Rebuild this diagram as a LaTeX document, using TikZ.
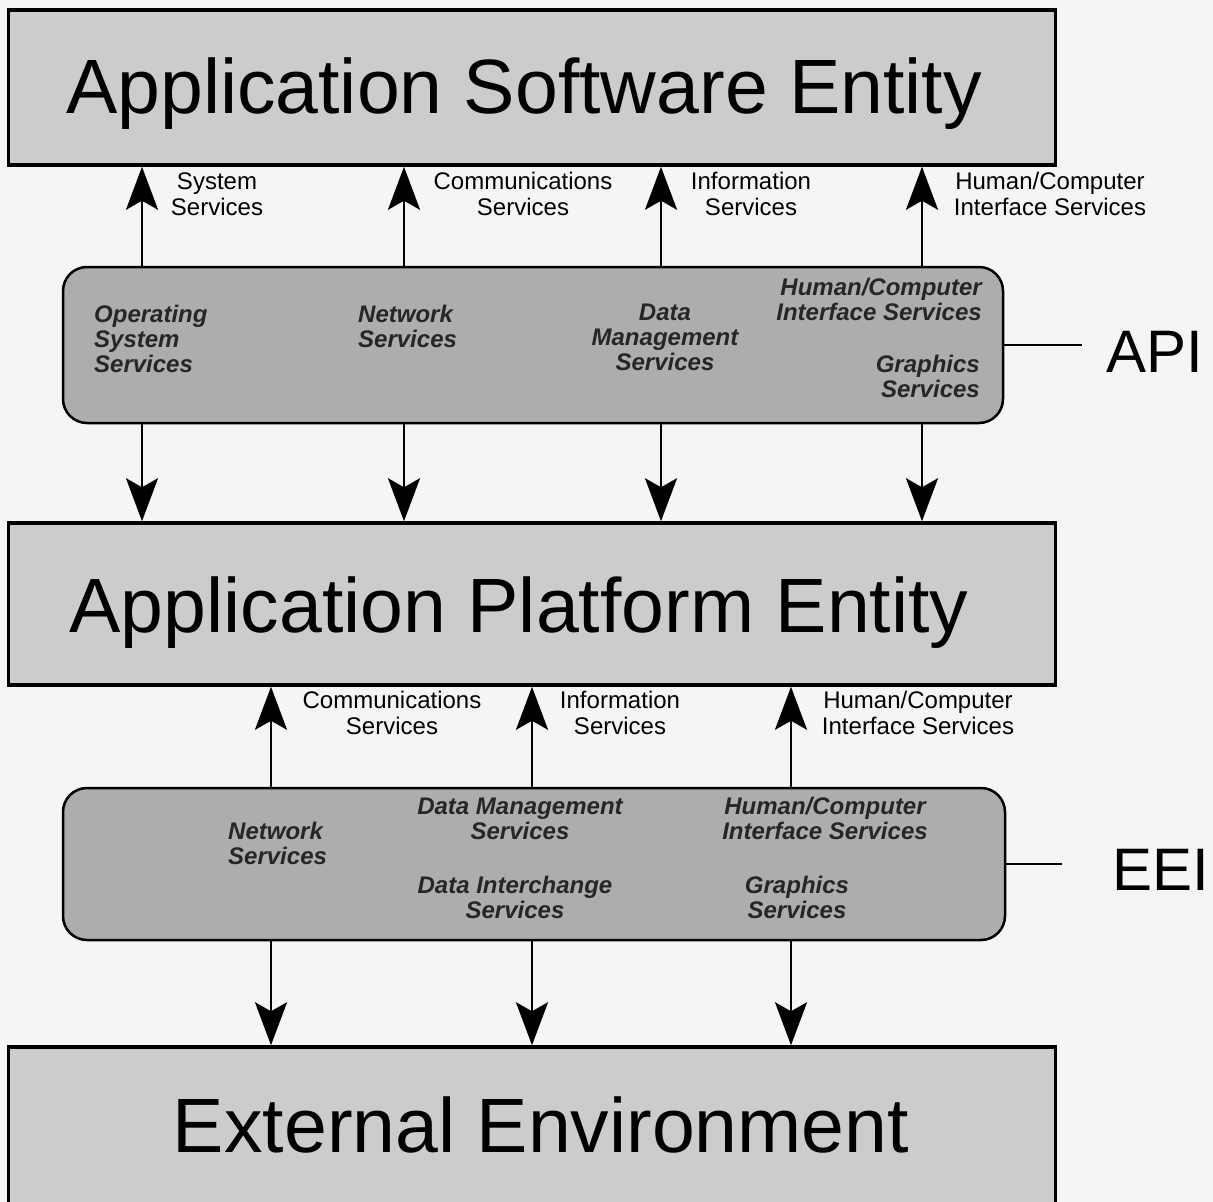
\documentclass[tikz,border=0pt]{standalone}
\usepackage{fontspec}
\setmainfont{Liberation Sans}
\usetikzlibrary{arrows.meta}
\definecolor{bg}{gray}{0.96}
\definecolor{boxfill}{gray}{0.80}
\definecolor{ifacefill}{gray}{0.68}
\begin{document}
\begin{tikzpicture}[x=1pt,y=-1pt,
  entity/.style={draw=black, line width=3.5pt, fill=boxfill, rectangle, inner sep=0pt},
  iface/.style={draw=black, line width=2.5pt, fill=ifacefill, rounded corners=24pt, rectangle, inner sep=0pt},
  title/.style={font=\fontsize{77}{80}\selectfont, anchor=base, inner sep=0pt},
  lab/.style={font=\fontsize{24}{25.5}\selectfont, align=center, anchor=base, inner sep=0pt},
  svc/.style={font=\fontsize{24}{25}\selectfont\bfseries\itshape, text=black!85, anchor=base, inner sep=0pt},
  big/.style={font=\fontsize{60}{60}\selectfont, anchor=base west, inner sep=0pt},
  arr/.style={line width=2.5pt, -{Stealth[length=43pt,width=32pt,inset=9pt]}},
  tick/.style={line width=2.5pt}]
\fill[bg] (0,0) rectangle (1213,1202);
\useasboundingbox (0,0) rectangle (1213,1202);

% boxes
\node[entity, minimum width=1047pt, minimum height=155pt] (ase) at (532,87.5) {};
\node[iface, minimum width=940pt, minimum height=156pt] (api) at (533,345) {};
\node[entity, minimum width=1047pt, minimum height=162pt] (ape) at (532,604) {};
\node[iface, minimum width=942pt, minimum height=152pt] (eei) at (534,864) {};
\node[entity, minimum width=1047pt, minimum height=168pt] (ext) at (532,1131) {};

% titles
\node[title] (aset) at (524,113) {Application Software Entity};
\node[title] (apet) at (519,632) {Application Platform Entity};
\node[title] (extt) at (541,1152) {External Environment};

% interface labels
\node[big] (apil) at (1106,372) {API};
\node[big] (eeil) at (1112,890) {EEI};
\coordinate (apiend) at (1082,345);
\coordinate (eeiend) at (1062,864);
\draw[tick] (api.east) -- (apiend);
\draw[tick] (eei.east) -- (eeiend);

% arrow columns
\coordinate (u1) at (142,0);
\coordinate (u2) at (404,0);
\coordinate (u3) at (661,0);
\coordinate (u4) at (922,0);
\coordinate (d1) at (271,0);
\coordinate (d2) at (532,0);
\coordinate (d3) at (791,0);

\foreach \c in {u1,u2,u3,u4}{
  \draw[arr] (\c |- api.north) -- (\c |- ase.south);
  \draw[arr] (\c |- api.south) -- (\c |- ape.north);
}
\foreach \c in {d1,d2,d3}{
  \draw[arr] (\c |- eei.north) -- (\c |- ape.south);
  \draw[arr] (\c |- eei.south) -- (\c |- ext.north);
}

% upper service labels (base = last line)
\node[lab] (ls1) at (217,215) {System\\Services};
\node[lab] (ls2) at (523,215) {Communications\\Services};
\node[lab] (ls3) at (751,215) {Information\\Services};
\node[lab] (ls4) at (1050,215) {Human/Computer\\Interface Services};

% lower service labels
\node[lab] (lt1) at (392,734) {Communications\\Services};
\node[lab] (lt2) at (620,734) {Information\\Services};
\node[lab] (lt3) at (918,734) {Human/Computer\\Interface Services};

% API contents
\node[svc, align=left, anchor=base west] (a1) at (94,372) {Operating\\System\\Services};
\node[svc, align=left, anchor=base west] (a2) at (358,347) {Network\\Services};
\node[svc, align=center] (a3) at (665,370) {Data\\Management\\Services};
\node[svc, align=right, anchor=base east] (a4) at (982,320) {Human/Computer\\Interface Services};
\node[svc, align=right, anchor=base east] (a5) at (980,397) {Graphics\\Services};

% EEI contents
\node[svc, align=left, anchor=base west] (e1) at (228,864) {Network\\Services};
\node[svc, align=center] (e2) at (520,839) {Data Management\\Services};
\node[svc, align=center] (e3) at (515,918) {Data Interchange\\Services};
\node[svc, align=center] (e4) at (825,839) {Human/Computer\\Interface Services};
\node[svc, align=center] (e5) at (797,918) {Graphics\\Services};
\end{tikzpicture}
\end{document}
